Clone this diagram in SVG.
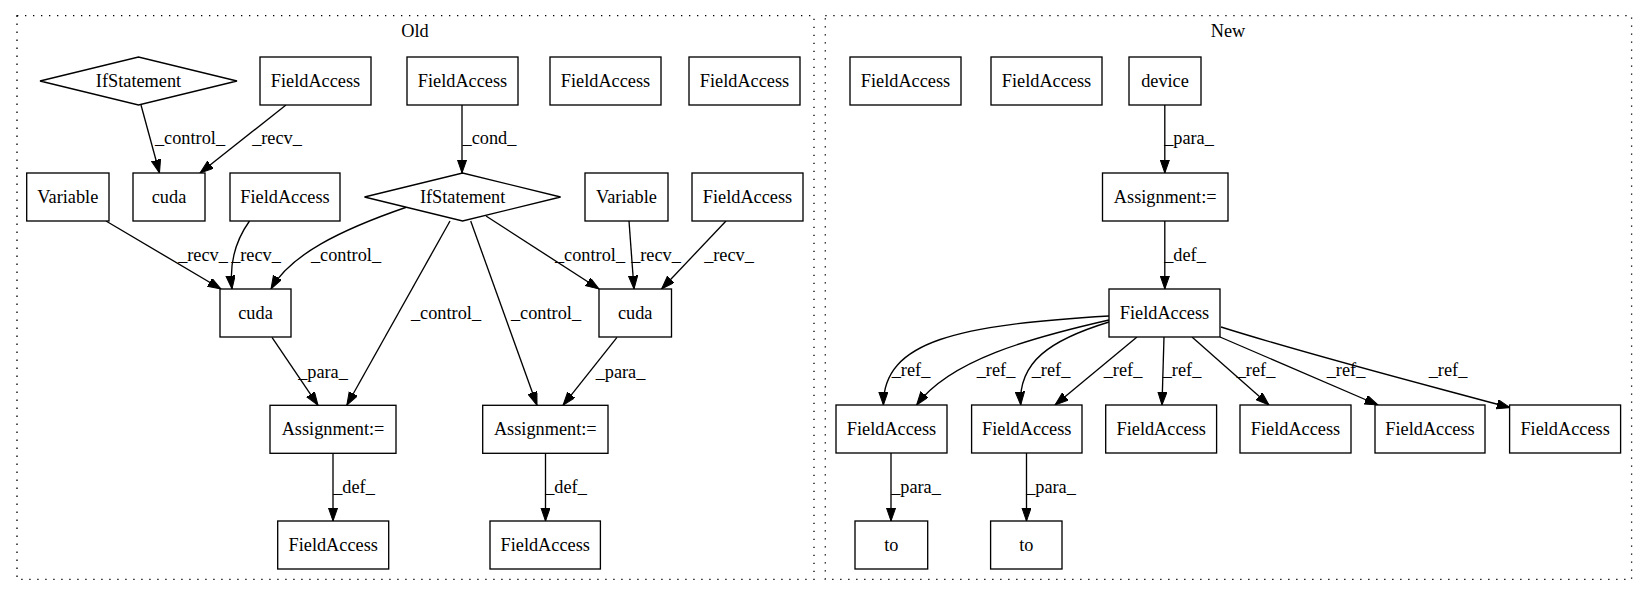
<svg xmlns="http://www.w3.org/2000/svg" width="1648" height="596" viewBox="0 0 1648 596">
<style>
text{font-family:'Liberation Serif','Times New Roman',serif;font-size:18.3px;fill:#000}
.n text,text.c{text-anchor:middle}
.n rect,.n polygon{fill:#fff;stroke:#000;stroke-width:1.33}
.cl{fill:none;stroke:#000;stroke-width:1.33;stroke-dasharray:1.33,6.67}
.e path{fill:none;stroke:#000;stroke-width:1.33;marker-end:url(#ah)}
.e text{text-anchor:middle}
</style>
<defs>
<marker id="ah" markerUnits="userSpaceOnUse" markerWidth="14" markerHeight="10" refX="13.3" refY="4.7" orient="auto">
<polygon points="0,0 13.3,4.7 0,9.3" fill="#000" stroke="#000" stroke-width="1"/>
</marker>
</defs>
<rect width="1648" height="596" fill="#fff"/>
<g id="cluster_old"><rect class="cl" x="17" y="15.7" width="797" height="563.6"/><text class="c" x="415" y="37">Old</text></g>
<g id="cluster_new"><rect class="cl" x="825.3" y="15.7" width="806.3" height="563.6"/><text class="c" x="1228" y="37">New</text></g>

<g id="edges" class="e">
<path d="M141,105 L159.5,173"/><text x="190" y="144">_control_</text>
<path d="M286,105 L200,173"/><text x="277" y="144">_recv_</text>
<path d="M462,105 L462,173"/><text x="489.5" y="144">_cond_</text>
<path d="M106,221 L221,289"/><text x="203" y="261">_recv_</text>
<path d="M249.5,221 C236,240 229,262 232,289"/><text x="256" y="261">_recv_</text>
<path d="M407,207 C340,230 290,255 271,289"/><text x="346" y="261">_control_</text>
<path d="M450,221 L346.8,405.3"/><text x="446" y="318.7">_control_</text>
<path d="M470.7,221 L537,405.3"/><text x="546" y="318.7">_control_</text>
<path d="M486,216 L599,289"/><text x="590" y="261">_control_</text>
<path d="M629,221 L634,289"/><text x="656" y="261">_recv_</text>
<path d="M726,221 L661.6,289"/><text x="729" y="261">_recv_</text>
<path d="M272,337.3 L318,405.3"/><text x="323" y="377.7">_para_</text>
<path d="M617,337.3 L563,405.3"/><text x="620.5" y="377.7">_para_</text>
<path d="M333,453 L333,521"/><text x="354" y="492.7">_def_</text>
<path d="M545.5,453 L545.5,521"/><text x="566" y="492.7">_def_</text>

<path d="M1164.8,105 L1164.8,173"/><text x="1189" y="144">_para_</text>
<path d="M1164.8,221 L1164.8,289"/><text x="1185" y="261">_def_</text>
<path d="M1109,316 C960,325 883,340 883.4,405"/><text x="911" y="376">_ref_</text>
<path d="M1109,320 C1030,338 950,360 916.6,405"/><text x="996" y="376">_ref_</text>
<path d="M1109,322 C1050,340 1018,362 1020.7,405"/><text x="1051" y="376">_ref_</text>
<path d="M1137,337 L1055,405"/><text x="1123" y="376">_ref_</text>
<path d="M1164,337 L1162,405"/><text x="1182" y="376">_ref_</text>
<path d="M1192,337 L1269,405"/><text x="1256" y="376">_ref_</text>
<path d="M1220,337 L1378,405"/><text x="1346" y="376">_ref_</text>
<path d="M1221,327 C1310,355 1400,378 1510,407.7"/><text x="1448" y="376">_ref_</text>
<path d="M891,453 L891,521"/><text x="916" y="492.7">_para_</text>
<path d="M1026.5,453 L1026.5,521"/><text x="1051" y="492.7">_para_</text>
</g>

<g id="old_if1" class="n"><polygon points="40,81 138.5,57 237,81 138.5,105"/><text x="138.5" y="87">IfStatement</text></g>
<g id="old_fa1" class="n"><rect x="260" y="57" width="111" height="48"/><text x="315.5" y="87">FieldAccess</text></g>
<g id="old_fa2" class="n"><rect x="407" y="57" width="111" height="48"/><text x="462.5" y="87">FieldAccess</text></g>
<g id="old_fa3" class="n"><rect x="550" y="57" width="111" height="48"/><text x="605.5" y="87">FieldAccess</text></g>
<g id="old_fa4" class="n"><rect x="689" y="57" width="111" height="48"/><text x="744.5" y="87">FieldAccess</text></g>
<g id="old_var1" class="n"><rect x="26.7" y="173" width="82.3" height="48"/><text x="67.8" y="203">Variable</text></g>
<g id="old_cuda1" class="n"><rect x="133" y="173" width="72" height="48"/><text x="169" y="203">cuda</text></g>
<g id="old_fa5" class="n"><rect x="230" y="173" width="110" height="48"/><text x="285" y="203">FieldAccess</text></g>
<g id="old_if2" class="n"><polygon points="364.5,197 462.6,173 560.6,197 462.6,221"/><text x="462.6" y="203">IfStatement</text></g>
<g id="old_var2" class="n"><rect x="585" y="173" width="83" height="48"/><text x="626.5" y="203">Variable</text></g>
<g id="old_fa6" class="n"><rect x="692" y="173" width="111" height="48"/><text x="747.5" y="203">FieldAccess</text></g>
<g id="old_cuda2" class="n"><rect x="220" y="289" width="71" height="48"/><text x="255.5" y="319">cuda</text></g>
<g id="old_cuda3" class="n"><rect x="599" y="289" width="72.5" height="48"/><text x="635.2" y="319">cuda</text></g>
<g id="old_asg1" class="n"><rect x="270" y="405.3" width="126" height="48"/><text x="333" y="435">Assignment:=</text></g>
<g id="old_asg2" class="n"><rect x="482.7" y="405.3" width="125.3" height="48"/><text x="545.3" y="435">Assignment:=</text></g>
<g id="old_fa7" class="n"><rect x="277.7" y="521" width="111" height="48"/><text x="333.2" y="551">FieldAccess</text></g>
<g id="old_fa8" class="n"><rect x="490" y="521" width="110.4" height="48"/><text x="545.2" y="551">FieldAccess</text></g>

<g id="new_fa1" class="n"><rect x="850" y="57" width="111" height="48"/><text x="905.5" y="87">FieldAccess</text></g>
<g id="new_fa2" class="n"><rect x="991" y="57" width="111" height="48"/><text x="1046.5" y="87">FieldAccess</text></g>
<g id="new_device" class="n"><rect x="1129" y="57" width="72" height="48"/><text x="1165" y="87">device</text></g>
<g id="new_asg" class="n"><rect x="1102.5" y="173" width="125.5" height="48"/><text x="1165.2" y="203">Assignment:=</text></g>
<g id="new_fa_main" class="n"><rect x="1109" y="289" width="111" height="48"/><text x="1164.5" y="319">FieldAccess</text></g>
<g id="new_fa3" class="n"><rect x="836" y="405" width="111" height="48"/><text x="891.5" y="435">FieldAccess</text></g>
<g id="new_fa4" class="n"><rect x="971.6" y="405" width="110.4" height="48"/><text x="1026.8" y="435">FieldAccess</text></g>
<g id="new_fa5" class="n"><rect x="1105.7" y="405" width="110.9" height="48"/><text x="1161.2" y="435">FieldAccess</text></g>
<g id="new_fa6" class="n"><rect x="1240" y="405" width="111" height="48"/><text x="1295.5" y="435">FieldAccess</text></g>
<g id="new_fa7" class="n"><rect x="1375" y="405" width="110" height="48"/><text x="1430" y="435">FieldAccess</text></g>
<g id="new_fa8" class="n"><rect x="1509.6" y="405" width="111" height="48"/><text x="1565.1" y="435">FieldAccess</text></g>
<g id="new_to1" class="n"><rect x="855" y="521" width="72.7" height="48"/><text x="891.4" y="551">to</text></g>
<g id="new_to2" class="n"><rect x="990.6" y="521" width="71.4" height="48"/><text x="1026.3" y="551">to</text></g>
</svg>
